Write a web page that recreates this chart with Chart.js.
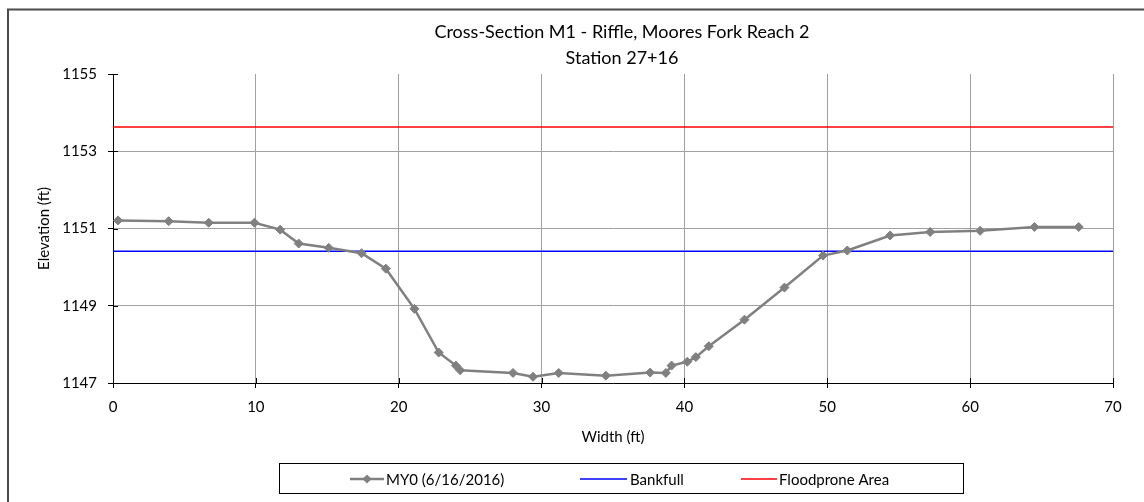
<!DOCTYPE html>
<html>
<head>
<meta charset="utf-8">
<title>Cross-Section M1</title>
<script src="https://cdn.jsdelivr.net/npm/chart.js@4.4.1/dist/chart.umd.min.js"></script>
<style>
  html, body { margin: 0; padding: 0; background: #fff; }
  #wrap { width: 1144px; height: 502px; }
</style>
</head>
<body>
<div id="wrap"><canvas id="myChart" width="1144" height="502"></canvas></div>
<script>
// Chart text
const titleLines = ["Cross-Section M1 - Riffle, Moores Fork Reach 2", "Station 27+16"];
const xAxisTitle = "Width (ft)";
const yAxisTitle = "Elevation (ft)";
const seriesNames = ["MY0 (6/16/2016)", "Bankfull", "Floodprone Area"];

const widthFt = [0.35, 3.9, 6.7, 9.9, 11.7, 13.0, 15.1, 17.4, 19.1, 21.1, 22.8, 24.0, 24.3, 28.0, 29.4, 31.2,
  34.5, 37.6, 38.7, 39.1, 40.2, 40.8, 41.7, 44.2, 47.0, 49.7, 51.4, 54.4, 57.2, 60.7, 64.5, 67.6];
const elevationFt = [1151.21, 1151.19, 1151.15, 1151.15, 1150.97, 1150.61, 1150.50, 1150.36, 1149.96, 1148.92,
  1147.79, 1147.45, 1147.33, 1147.26, 1147.16, 1147.26, 1147.19, 1147.27, 1147.26, 1147.45, 1147.55, 1147.67,
  1147.95, 1148.64, 1149.47, 1150.30, 1150.43, 1150.82, 1150.91, 1150.94, 1151.04, 1151.04];

// Horizontal reference lines
const levelExtent = [0, 70];
const bankfullElevation = [1150.41, 1150.41];
const floodproneElevation = [1153.63, 1153.63];

// Axis ranges
const xRange = { min: 0, max: 70, step: 10 };
const yRange = { min: 1147, max: 1155, step: 2 };

const FONT = "Lato, 'Open Sans', sans-serif";
const GRID = "#a0a0a0";

function toPoints(xs, ys) {
  return xs.map((x, i) => ({ x: x, y: ys[i] }));
}

// Frame, title, legend and cross tick marks
const decorPlugin = {
  id: "decor",
  beforeDraw(chart) {
    const c = chart.ctx;
    c.save();
    c.fillStyle = "#fff";
    c.fillRect(0, 0, chart.width, chart.height);
    c.strokeStyle = "#4a4a4a";
    c.lineWidth = 2;
    c.strokeRect(8, 9.5, chart.width + 50, chart.height + 50);
    c.restore();
  },
  afterDraw(chart) {
    const c = chart.ctx;
    const area = chart.chartArea;
    c.save();

    // title
    c.fillStyle = "#000";
    c.font = "18px " + FONT;
    c.textAlign = "center";
    c.textBaseline = "middle";
    c.fillText(titleLines[0], 622, 32);
    c.fillText(titleLines[1], 622, 58);

    // inward half of the cross tick marks
    c.strokeStyle = "#000";
    c.lineWidth = 1;
    const xs = chart.scales.x, ys = chart.scales.y;
    xs.ticks.forEach((t) => {
      const px = Math.round(xs.getPixelForValue(t.value)) + 0.5;
      c.beginPath();
      c.moveTo(px, area.bottom);
      c.lineTo(px, area.bottom - 5);
      c.stroke();
    });
    ys.ticks.forEach((t) => {
      const py = Math.round(ys.getPixelForValue(t.value)) + 0.5;
      c.beginPath();
      c.moveTo(area.left, py);
      c.lineTo(area.left + 5, py);
      c.stroke();
    });

    // legend box
    c.strokeStyle = "#000";
    c.strokeRect(279.5, 463.5, 684, 30);
    const ly = 479;
    const items = [
      { x0: 350, x1: 384, tx: 386 },
      { x0: 580, x1: 627, tx: 630 },
      { x0: 741, x1: 777, tx: 779 }
    ];
    c.font = "15px " + FONT;
    c.textAlign = "left";
    chart.data.datasets.forEach((ds, i) => {
      const it = items[i];
      c.strokeStyle = ds.borderColor;
      c.lineWidth = ds.borderWidth;
      c.beginPath();
      c.moveTo(it.x0, ly);
      c.lineTo(it.x1, ly);
      c.stroke();
      if (ds.pointRadius > 0) {
        const cx = (it.x0 + it.x1) / 2, r = ds.pointRadius;
        c.fillStyle = ds.pointBackgroundColor;
        c.beginPath();
        c.moveTo(cx, ly - r);
        c.lineTo(cx + r, ly);
        c.lineTo(cx, ly + r);
        c.lineTo(cx - r, ly);
        c.closePath();
        c.fill();
      }
      c.fillStyle = "#000";
      c.fillText(ds.label, it.tx, ly + 1);
    });
    c.restore();
  }
};

const ctx = document.getElementById("myChart").getContext("2d");
new Chart(ctx, {
  type: "line",
  data: {
    datasets: [
      {
        label: seriesNames[0],
        data: toPoints(widthFt, elevationFt),
        borderColor: "#808080",
        borderWidth: 2.5,
        pointStyle: "rectRot",
        pointRadius: 4.5,
        pointBackgroundColor: "#808080",
        pointBorderColor: "#808080",
        pointBorderWidth: 1,
        tension: 0
      },
      {
        label: seriesNames[1],
        data: toPoints(levelExtent, bankfullElevation),
        borderColor: "#0000ff",
        borderWidth: 1.5,
        pointRadius: 0
      },
      {
        label: seriesNames[2],
        data: toPoints(levelExtent, floodproneElevation),
        borderColor: "#ff0000",
        borderWidth: 1.5,
        pointRadius: 0
      }
    ]
  },
  options: {
    responsive: false,
    animation: false,
    devicePixelRatio: 1,
    layout: { padding: { top: 74, left: 0, right: 31, bottom: 49 } },
    plugins: {
      legend: { display: false },
      tooltip: { enabled: false },
      title: { display: false }
    },
    scales: {
      x: {
        type: "linear",
        min: xRange.min,
        max: xRange.max,
        ticks: {
          stepSize: xRange.step, padding: 10, color: "#000", font: { family: FONT, size: 15 },
          callback: (v) => String(v)
        },
        grid: { color: GRID, tickColor: "#000", tickLength: 5 },
        border: { color: "#000", width: 1 },
        title: { display: true, text: xAxisTitle, color: "#000", font: { family: FONT, size: 15 }, padding: { top: 0, bottom: 7 } },
        afterFit: (scale) => { scale.height = 70; }
      },
      y: {
        type: "linear",
        min: yRange.min,
        max: yRange.max,
        ticks: {
          stepSize: yRange.step, padding: 11, color: "#000", font: { family: FONT, size: 15 },
          callback: (v) => String(v)
        },
        grid: {
          color: (c) => (c.tick && c.tick.value === yRange.max ? "rgba(0,0,0,0)" : GRID),
          tickColor: "#000",
          tickLength: 5
        },
        border: { color: "#000", width: 1 },
        title: { display: true, text: yAxisTitle, color: "#000", font: { family: FONT, size: 15 }, padding: { top: 35, bottom: 0 } },
        afterFit: (scale) => { scale.width = 113; }
      }
    }
  },
  plugins: [decorPlugin]
});
</script>
</body>
</html>
